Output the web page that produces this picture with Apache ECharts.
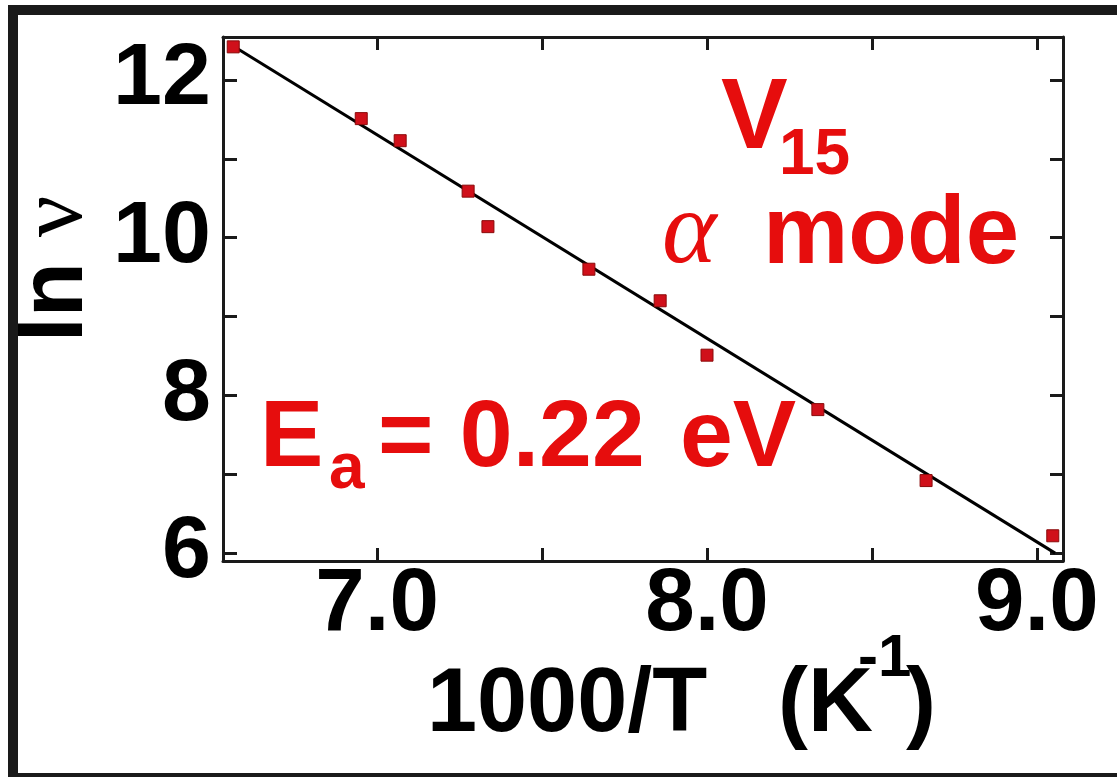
<!DOCTYPE html>
<html>
<head>
<meta charset="utf-8">
<script src="https://cdn.jsdelivr.net/npm/echarts@6/dist/echarts.min.js"></script>
<style>
  html, body { margin: 0; padding: 0; background: #ffffff; overflow: hidden; }
  #chart { width: 1117px; height: 777px; }
</style>
</head>
<body>
<div id="chart"></div>
<script>
// Relaxation rate of the alpha mode (V15) vs inverse temperature
const invT = [6.564, 6.952, 7.070, 7.276, 7.336, 7.642, 7.858, 8.000, 8.336, 8.664, 9.048];
const lnNu = [12.42, 11.51, 11.23, 10.59, 10.14, 9.60, 9.20, 8.51, 7.82, 6.92, 6.22];

// Arrhenius fit, Ea = 0.22 eV
const fitX = [6.56, 9.055];
const fitY = [12.44, 6.0];

// Axis ticks and labels
const xTicks = [7.0, 7.5, 8.0, 8.5, 9.0];
const xLabels = [7.0, 8.0, 9.0];
const yTicks = [6, 7, 8, 9, 10, 11, 12];
const yLabels = [6, 8, 10, 12];

const X_MIN = 6.533, X_MAX = 9.079;
const Y_MIN = 5.9, Y_MAX = 12.545;

const INK = '#1a1a1a';
const RED = '#e60d0d';
const SANS = '"Liberation Sans", Arial, sans-serif';
const SERIF = '"Liberation Serif", "Times New Roman", serif';

const points = invT.map((x, i) => [x, lnNu[i]]);
const fit = fitX.map((x, i) => [x, fitY[i]]);

function axisBase(extra) {
  return Object.assign({
    type: 'value',
    axisLine: { show: true, onZero: false, lineStyle: { color: INK, width: 3 } },
    splitLine: { show: false }
  }, extra);
}

const chart = echarts.init(document.getElementById('chart'), null, { renderer: 'canvas' });

chart.setOption({
  backgroundColor: '#ffffff',
  animation: false,
  grid: { left: 223, right: 54, top: 37, bottom: 216 },
  xAxis: [
    axisBase({
      position: 'bottom', min: X_MIN, max: X_MAX,
      axisTick: { inside: true, length: 13, lineStyle: { color: INK, width: 3 }, customValues: xTicks },
      axisLabel: {
        customValues: xLabels, margin: 0,
        formatter: v => v.toFixed(1),
        color: '#000', fontFamily: SANS, fontWeight: 'bold', fontSize: 89
      }
    }),
    axisBase({
      position: 'top', min: X_MIN, max: X_MAX,
      axisTick: { inside: true, length: 13, lineStyle: { color: INK, width: 3 }, customValues: xTicks },
      axisLabel: { show: false }
    })
  ],
  yAxis: [
    axisBase({
      position: 'left', min: Y_MIN, max: Y_MAX,
      axisTick: { inside: true, length: 14, lineStyle: { color: INK, width: 3 }, customValues: yTicks },
      axisLabel: {
        customValues: yLabels, margin: 12,
        color: '#000', fontFamily: SANS, fontWeight: 'bold', fontSize: 88
      }
    }),
    axisBase({
      position: 'right', min: Y_MIN, max: Y_MAX,
      axisTick: { inside: true, length: 13, lineStyle: { color: INK, width: 3 }, customValues: yTicks },
      axisLabel: { show: false }
    })
  ],
  series: [
    {
      type: 'line',
      data: fit,
      showSymbol: false,
      lineStyle: { color: '#000', width: 3 },
      z: 2
    },
    {
      type: 'scatter',
      data: points,
      symbol: 'rect',
      symbolSize: 12,
      itemStyle: { color: '#d0101a', opacity: 1, borderColor: '#8a0a0a', borderWidth: 1 },
      z: 3
    }
  ],
  graphic: [
    // picture frame (top, left and bottom edges fall inside the page)
    {
      type: 'rect', z: 100, silent: true,
      shape: { x: 13, y: 10, width: 1300, height: 768 },
      style: { fill: 'none', stroke: INK, lineWidth: 10 }
    },
    // y-axis title
    {
      type: 'text', z: 50, x: 57, y: 269, rotation: Math.PI / 2,
      style: {
        text: '{a|ln }{b|ν}',
        textAlign: 'center', textVerticalAlign: 'middle',
        rich: {
          a: { fontFamily: SANS, fontWeight: 'bold', fontSize: 90, fill: '#000' },
          b: { fontFamily: SERIF, fontSize: 92, fill: '#000' }
        }
      }
    },
    // x-axis title
    {
      type: 'text', z: 50,
      style: { text: '1000/T', x: 427, y: 737 - 31, font: 'bold 90px ' + SANS, fill: '#000', textVerticalAlign: 'middle' }
    },
    {
      type: 'text', z: 50,
      style: { text: '(K', x: 778, y: 737 - 31, font: 'bold 90px ' + SANS, fill: '#000', textVerticalAlign: 'middle' }
    },
    {
      type: 'text', z: 50,
      style: { text: '-1', x: 858, y: 680 - 21, font: 'bold 60px ' + SANS, fill: '#000', textVerticalAlign: 'middle' }
    },
    {
      type: 'text', z: 50,
      style: { text: ')', x: 906, y: 737 - 31, font: 'bold 90px ' + SANS, fill: '#000', textVerticalAlign: 'middle' }
    },
    // sample / mode annotation
    {
      type: 'text', z: 50,
      style: { text: 'V', x: 721, y: 155 - 35, font: 'bold 100px ' + SANS, fill: RED, textVerticalAlign: 'middle' }
    },
    {
      type: 'text', z: 50,
      style: { text: '15', x: 779, y: 178 - 22, font: 'bold 64px ' + SANS, fill: RED, textVerticalAlign: 'middle' }
    },
    {
      type: 'text', z: 50,
      style: { text: 'α', x: 662, y: 270 - 35, font: 'italic 104px ' + SERIF, fill: RED, textVerticalAlign: 'middle' }
    },
    {
      type: 'text', z: 50,
      style: { text: 'mode', x: 763, y: 270 - 33, font: 'bold 96px ' + SANS, fill: RED, textVerticalAlign: 'middle' }
    },
    // activation energy
    {
      type: 'text', z: 50,
      style: { text: 'E', x: 260, y: 473 - 33, font: 'bold 95px ' + SANS, fill: RED, textVerticalAlign: 'middle' }
    },
    {
      type: 'text', z: 50,
      style: { text: 'a', x: 329, y: 492 - 22, font: 'bold 64px ' + SANS, fill: RED, textVerticalAlign: 'middle' }
    },
    {
      type: 'text', z: 50,
      style: { text: '= 0.22', x: 378, y: 473 - 33, font: 'bold 95px ' + SANS, fill: RED, textVerticalAlign: 'middle' }
    },
    {
      type: 'text', z: 50,
      style: { text: 'eV', x: 680, y: 473 - 33, font: 'bold 95px ' + SANS, fill: RED, textVerticalAlign: 'middle' }
    }
  ]
});
</script>
</body>
</html>
